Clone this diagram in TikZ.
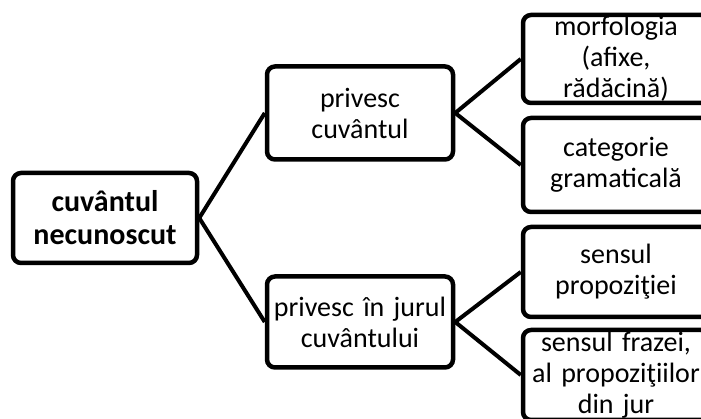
\documentclass[tikz,border=0pt]{standalone}
\usepackage{fontspec}
\setmainfont{Carlito}
\usetikzlibrary{positioning}

\newcommand{\wide}[1]{\makebox[0pt]{#1}}

\begin{document}
\begin{tikzpicture}[x=1pt,y=1pt]
  \useasboundingbox[fill=white] (0,0) rectangle (701,419);
  \tikzstyle{every node}=[rectangle,draw,line width=4.5pt,rounded corners=8pt,
    inner sep=0pt,align=center,text width=172pt,minimum width=186pt,
    font=\fontsize{28}{31}\selectfont]
  \node[minimum height=90pt,text width=170pt,minimum width=184pt,
        font=\bfseries\fontsize{30}{33}\selectfont] (root) at (105,201) {cuvântul\\necunoscut};
  \node[minimum height=93pt] (cuv)    at (360,306) {privesc\\cuvântul};
  \node[minimum height=91pt] (jurul)  at (360,97)  {\wide{privesc în jurul}\\cuvântului};
  \node[minimum height=88pt] (morf)   at (616,360) {morfologia\\(afixe,\\rădăcină)};
  \node[minimum height=94pt] (categ)  at (616,254) {categorie\\gramaticală};
  \node[minimum height=90pt] (prop)   at (616,147) {sensul\\propoziţiei};
  \node[minimum height=90pt] (frazei) at (616,44)  {\wide{sensul frazei,}\\\wide{al propoziţiilor}\\din jur};

%% draw connections
  \tikzstyle{every path}=[line width=4pt]
  \foreach \a/\b in {root/cuv, root/jurul, cuv/morf, cuv/categ, jurul/prop, jurul/frazei}
    \draw (\a.east) -- (\b.west);
\end{tikzpicture}
\end{document}
